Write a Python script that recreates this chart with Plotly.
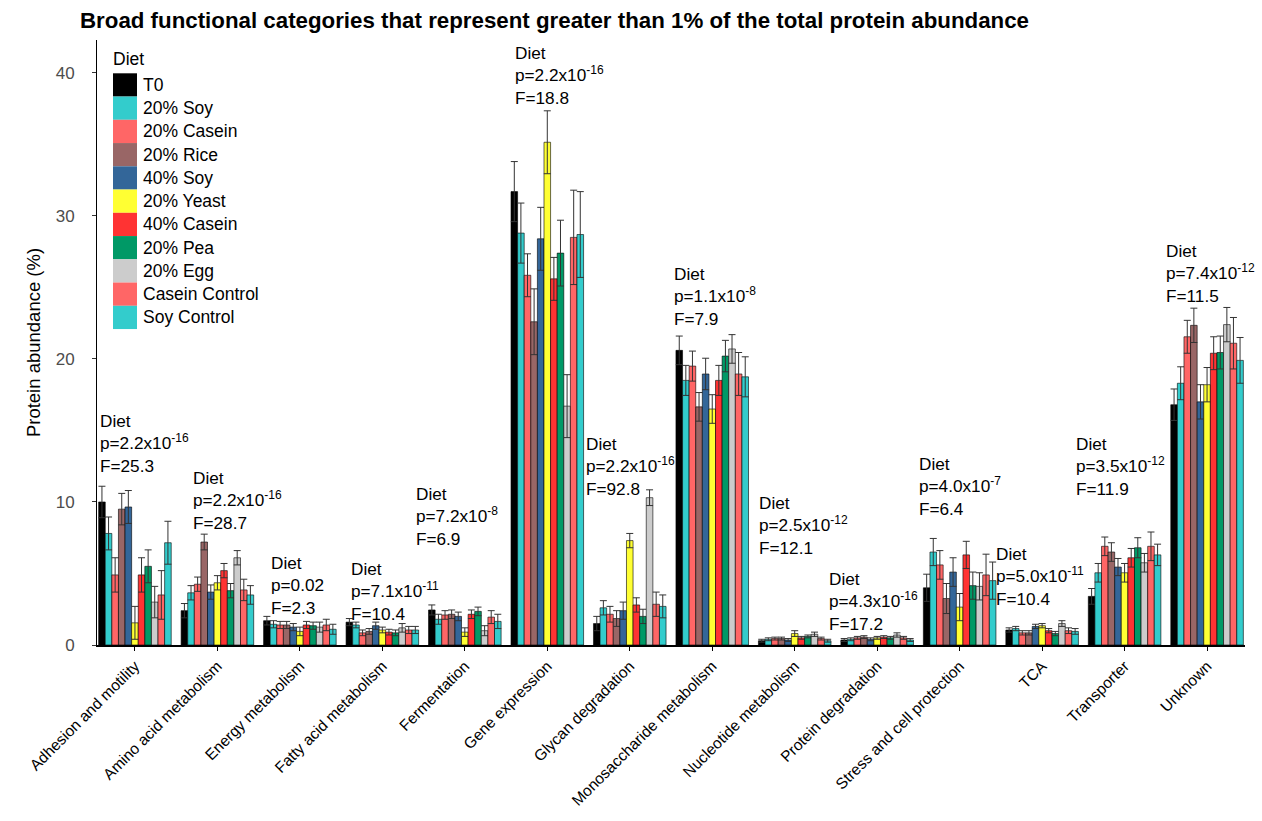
import plotly.graph_objects as go

# Functional categories on the x axis
categories = [
    "Adhesion and motility", "Amino acid metabolism", "Energy metabolism",
    "Fatty acid metabolism", "Fermentation", "Gene expression",
    "Glycan degradation", "Monosaccharide metabolism", "Nucleotide metabolism",
    "Protein degradation", "Stress and cell protection", "TCA",
    "Transporter", "Unknown",
]

diets = ["T0", "20% Soy", "20% Casein", "20% Rice", "40% Soy", "20% Yeast",
         "40% Casein", "20% Pea", "20% Egg", "Casein Control", "Soy Control"]
colors = ["#000000", "#33CCCC", "#FF6666", "#996666", "#336699", "#FFFF33",
          "#FF3333", "#009966", "#CCCCCC", "#FF6666", "#33CCCC"]

# Mean protein abundance (%) per diet, one value per category
mean_t0 = [10.0, 2.4, 1.7, 1.6, 2.45, 31.7, 1.5, 20.6, 0.3, 0.35, 4.0, 1.05, 3.4, 16.8]
mean_soy20 = [7.8, 3.65, 1.45, 1.4, 1.8, 28.8, 2.6, 18.5, 0.4, 0.4, 6.5, 1.15, 5.05, 18.3]
mean_casein20 = [4.9, 4.25, 1.4, 0.85, 2.1, 25.85, 2.15, 19.5, 0.45, 0.5, 5.6, 0.85, 6.9, 21.55]
mean_rice20 = [9.5, 7.2, 1.4, 0.95, 2.15, 22.6, 1.85, 16.65, 0.45, 0.55, 3.25, 0.85, 6.5, 22.35]
mean_soy40 = [9.65, 3.7, 1.25, 1.35, 2.0, 28.4, 2.4, 18.95, 0.35, 0.4, 5.1, 1.3, 5.45, 17.0]
mean_yeast20 = [1.55, 4.35, 0.95, 1.05, 0.9, 35.15, 7.3, 16.5, 0.8, 0.5, 2.65, 1.35, 5.05, 18.2]
mean_casein40 = [4.9, 5.2, 1.4, 0.9, 2.15, 25.6, 2.8, 18.5, 0.5, 0.55, 6.3, 1.0, 6.1, 20.4]
mean_pea20 = [5.5, 3.8, 1.35, 0.85, 2.35, 27.4, 2.0, 20.2, 0.6, 0.5, 4.15, 0.8, 6.8, 20.45]
mean_egg20 = [3.0, 6.1, 1.25, 1.2, 1.0, 16.7, 10.3, 20.7, 0.75, 0.7, 4.1, 1.5, 5.75, 22.4]
mean_casein_ctrl = [3.5, 3.85, 1.4, 1.05, 1.95, 28.5, 2.85, 18.95, 0.45, 0.5, 4.9, 1.0, 6.9, 21.1]
mean_soy_ctrl = [7.15, 3.5, 1.1, 1.05, 1.65, 28.7, 2.7, 18.75, 0.3, 0.35, 4.5, 0.95, 6.3, 19.9]

# Error bar half-lengths per diet
err_t0 = [1.1, 0.5, 0.3, 0.25, 0.35, 2.1, 0.5, 1.0, 0.1, 0.1, 0.95, 0.15, 0.55, 1.1]
err_soy20 = [1.15, 0.5, 0.25, 0.2, 0.35, 2.1, 0.5, 1.05, 0.1, 0.1, 0.95, 0.15, 0.65, 1.15]
err_casein20 = [1.2, 0.5, 0.25, 0.2, 0.3, 1.5, 0.55, 1.05, 0.1, 0.1, 1.0, 0.15, 0.65, 1.15]
err_rice20 = [1.1, 0.55, 0.25, 0.2, 0.3, 2.3, 0.55, 1.0, 0.1, 0.1, 1.05, 0.15, 0.65, 1.2]
err_soy40 = [1.15, 0.5, 0.25, 0.25, 0.3, 2.2, 0.6, 1.1, 0.1, 0.1, 1.0, 0.15, 0.6, 1.2]
err_yeast20 = [1.15, 0.5, 0.3, 0.2, 0.3, 2.2, 0.5, 1.0, 0.2, 0.1, 0.95, 0.15, 0.65, 1.2]
err_casein40 = [1.2, 0.5, 0.25, 0.2, 0.3, 1.5, 0.5, 1.05, 0.1, 0.1, 0.95, 0.15, 0.65, 1.15]
err_pea20 = [1.15, 0.5, 0.25, 0.2, 0.3, 2.3, 0.5, 1.1, 0.1, 0.1, 0.95, 0.15, 0.7, 1.15]
err_egg20 = [1.1, 0.5, 0.35, 0.3, 0.35, 2.2, 0.55, 1.0, 0.15, 0.15, 0.95, 0.2, 0.65, 1.2]
err_casein_ctrl = [1.7, 0.75, 0.4, 0.25, 0.45, 3.3, 0.85, 1.5, 0.1, 0.1, 1.45, 0.2, 1.0, 1.8]
err_soy_ctrl = [1.5, 0.65, 0.35, 0.25, 0.5, 3.0, 0.8, 1.4, 0.1, 0.1, 1.3, 0.2, 0.75, 1.6]

means = [mean_t0, mean_soy20, mean_casein20, mean_rice20, mean_soy40, mean_yeast20,
         mean_casein40, mean_pea20, mean_egg20, mean_casein_ctrl, mean_soy_ctrl]
errors = [err_t0, err_soy20, err_casein20, err_rice20, err_soy40, err_yeast20,
          err_casein40, err_pea20, err_egg20, err_casein_ctrl, err_soy_ctrl]

# ANOVA results for the Diet effect in each category
p_coef = ["2.2", "2.2", "0.02", "7.1", "7.2", "2.2", "2.2", "1.1", "2.5", "4.3", "4.0", "5.0", "3.5", "7.4"]
p_exp = ["-16", "-16", None, "-11", "-8", "-16", "-16", "-8", "-12", "-16", "-7", "-11", "-12", "-12"]
f_stat = ["25.3", "28.7", "2.3", "10.4", "6.9", "18.8", "92.8", "7.9", "12.1", "17.2", "6.4", "10.4", "11.9", "11.5"]
# where each label block sits (category position, top of block in %)
label_x = [-0.45, 0.68, 1.62, 2.59, 3.38, 4.59, 5.44, 6.51, 7.54, 8.39, 9.48, 10.42, 11.39, 12.48]
label_y = [16.5, 12.5, 6.6, 6.15, 11.4, 42.2, 14.9, 26.8, 10.8, 5.45, 13.5, 7.2, 14.9, 28.4]

FONT = "Liberation Sans, Arial, sans-serif"

fig = go.Figure()
for name, col, m, e in zip(diets, colors, means, errors):
    fig.add_trace(go.Bar(
        x=categories, y=m, name=name,
        marker=dict(color=col, line=dict(color="#000000", width=0.6)),
        error_y=dict(type="data", array=e, visible=True, color="#333333",
                     thickness=1, width=3.5),
        showlegend=False,
    ))

annotations = []
for i in range(len(categories)):
    p_txt = "p=" + p_coef[i] + ("x10<sup>" + p_exp[i] + "</sup>" if p_exp[i] else "")
    annotations.append(dict(
        x=label_x[i], y=label_y[i], xref="x", yref="y",
        xanchor="left", yanchor="top", align="left", showarrow=False,
        text="Diet<br>" + p_txt + "<br>F=" + f_stat[i],
        font=dict(family=FONT, size=17.2, color="#000000"),
    ))

# Legend drawn as stacked colour keys at the upper left of the panel
L, R, T, B = 97, 1245, 40, 645
def px_x(v):
    return (v - L) / (R - L)
def px_y(v):
    return (B - v) / (B - T)

shapes = []
key_top, key_h = 73.3, 23.25
annotations.append(dict(x=px_x(111), y=px_y(59), xref="paper", yref="paper",
                        xanchor="left", yanchor="middle", showarrow=False,
                        text="Diet", font=dict(family=FONT, size=17.5, color="#000000")))
for i, (name, col) in enumerate(zip(diets, colors)):
    y0 = key_top + i * key_h
    shapes.append(dict(type="rect", xref="paper", yref="paper",
                       x0=px_x(113), x1=px_x(137), y0=px_y(y0 + key_h), y1=px_y(y0),
                       fillcolor=col, line=dict(width=0)))
    annotations.append(dict(x=px_x(141), y=px_y(y0 + key_h / 2), xref="paper", yref="paper",
                            xanchor="left", yanchor="middle", showarrow=False,
                            text=name, font=dict(family=FONT, size=17.5, color="#000000")))

fig.update_layout(
    width=1262, height=821,
    margin=dict(l=L, r=1262 - R, t=T, b=821 - B),
    paper_bgcolor="white", plot_bgcolor="white",
    barmode="group", bargap=0.12, bargroupgap=0,
    title=dict(text="<b>Broad functional categories that represent greater than 1% of the total protein abundance</b>",
               x=80 / 1262, xanchor="left", y=1 - 20 / 821, yanchor="middle",
               font=dict(family=FONT, size=22.3, color="#000000")),
    annotations=annotations, shapes=shapes,
    font=dict(family=FONT),
)
fig.update_xaxes(
    type="category", range=[-0.46, 13.46], tickangle=-45,
    showline=True, linecolor="#000000", linewidth=2,
    ticks="outside", ticklen=4, tickcolor="#000000",
    tickfont=dict(family=FONT, size=15.5, color="#000000"), showgrid=False,
)
fig.update_yaxes(
    range=[0, 42.3], tickvals=[0, 10, 20, 30, 40],
    showline=True, linecolor="#000000", linewidth=1,
    ticks="outside", ticklen=4, tickcolor="#333333", ticklabelstandoff=14,
    tickfont=dict(family=FONT, size=17, color="#4D4D4D"), showgrid=False,
    zeroline=False,
    title=dict(text="Protein abundance (%)", font=dict(family=FONT, size=18.5, color="#000000"), standoff=10),
)

fig.write_html("out.html")
